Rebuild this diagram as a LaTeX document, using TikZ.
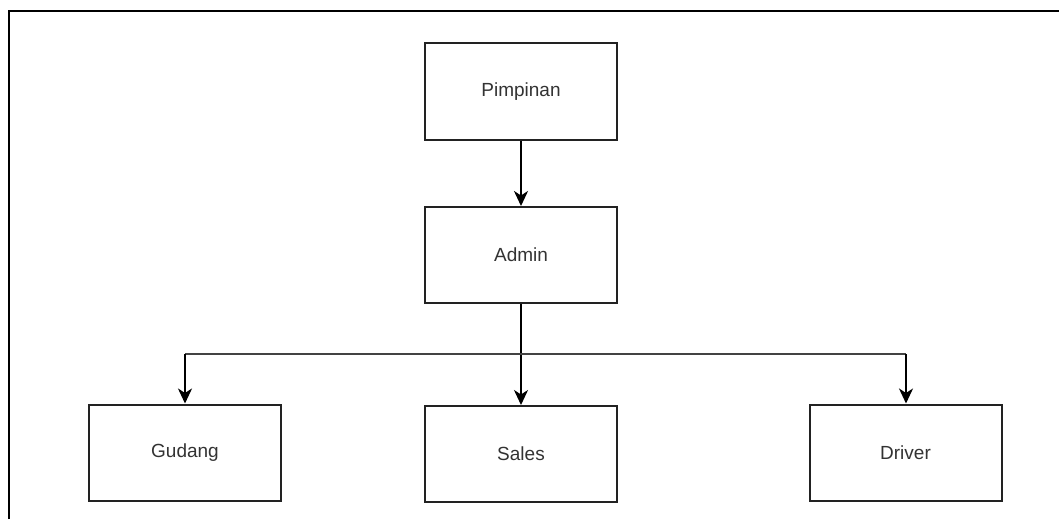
\documentclass[tikz,border=0pt]{standalone}
\usepackage{fontspec}
\setmainfont{Liberation Sans}
\usetikzlibrary{arrows.meta}
\definecolor{txt}{HTML}{333333}
\definecolor{edge}{HTML}{222222}
\begin{document}
\begin{tikzpicture}[x=1pt,y=-1pt,
  unit/.style={draw=edge,line width=2pt,minimum width=192pt,minimum height=96pt,
    inner sep=0pt,text=txt,font=\fontsize{19}{22}\selectfont},
  link/.style={draw=black,line width=2pt,
    -{Stealth[length=15pt,width=14pt,inset=4.5pt]}},
  bus/.style={draw=edge!85,line width=2pt}]
  \useasboundingbox (0,0) rectangle (1059,519);
  \fill[white] (0,0) rectangle (1059,519);
  % outer frame
  \draw[black,line width=2.2pt] (9,519) -- (9,11) -- (1059,11);

  \node[unit] (pim) at (521,91.5) {Pimpinan};
  \node[unit] (adm) at (521,255) {Admin};
  \node[unit] (gud) at (185,452.5) {Gudang};
  \node[unit] (sal) at (521,454) {Sales};
  \node[unit] (drv) at (905.5,452.5) {Driver};

  \coordinate (bl) at (185,354);
  \coordinate (br) at (906,354);

  \draw[link] (pim) -- (adm);
  \draw[link] (adm) -- (sal);
  \draw[bus] (bl) -- (br);
  \draw[link] (bl) -- (gud.north);
  \draw[link] (br) -- (br |- drv.north);
\end{tikzpicture}
\end{document}
